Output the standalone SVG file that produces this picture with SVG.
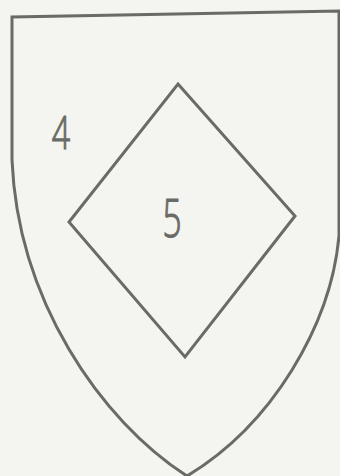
<svg xmlns="http://www.w3.org/2000/svg" width="340" height="476" viewBox="0 0 340 476">
<style>
.ln{fill:none;stroke:#6a6a66;stroke-width:3;stroke-linejoin:miter}
.lb{font-family:"Open Sans",Lato,"DejaVu Sans",sans-serif;fill:#6a6a66;stroke:#6a6a66;stroke-width:1.2;font-weight:300}
</style>
<rect width="340" height="476" fill="#f4f4f0"/>
<g id="shield">
<path class="ln" d="M12,160 L12,17 L342,11 M339,11 L339,236 C331,325 272,425 187,476 M12,160 C18,300 100,420 187,476"/>
<text class="lb" x="61" y="149" font-size="46" text-anchor="middle" transform="translate(61,0) scale(0.7,1) translate(-61,0)">4</text>
</g>
<g id="diamond">
<path class="ln" d="M178,84 L295,216 L185,357 L69,222 Z"/>
<text class="lb" x="172" y="237" font-size="54" text-anchor="middle" transform="translate(172,0) scale(0.62,1) translate(-172,0)">5</text>
</g>
<g id="connectors"/>
</svg>
